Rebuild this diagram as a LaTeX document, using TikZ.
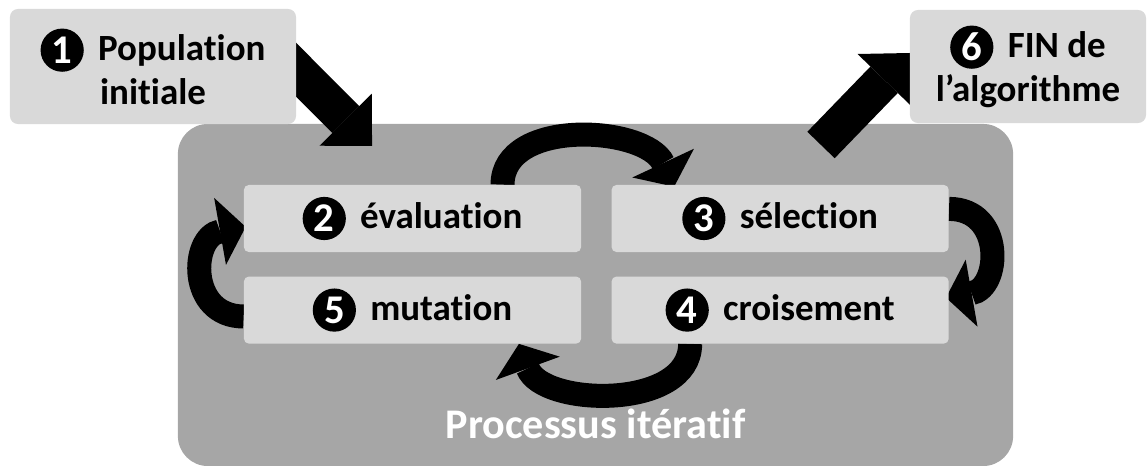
\documentclass[tikz,border=0pt]{standalone}
\usepackage{fontspec}
\setmainfont{Carlito}[Ligatures=NoCommon]
\usetikzlibrary{arrows.meta,positioning}
\definecolor{boxgray}{HTML}{D9D9D9}
\definecolor{loopgray}{HTML}{A6A6A6}
\pgfdeclarelayer{bg}
\pgfdeclarelayer{mid}
\pgfsetlayers{bg,mid,main}
\newcommand{\stepnum}[1]{\tikz[baseline=-0.26cm]\node[circle,anchor=center,fill=black,text=white,inner sep=0pt,minimum size=1.08cm,font=\bfseries\fontsize{29}{29}\selectfont] (num#1) {#1};}
\tikzset{
    stepbox/.style={fill=boxgray, rounded corners=0.2cm, inner sep=0pt, align=center, font=\bfseries\fontsize{26.3}{31}\selectfont},
    loopbox/.style={stepbox, rounded corners=0.12cm, minimum width=8.425cm, minimum height=1.675cm},
    bigarrow/.style={line width=0.95cm, -{Triangle[width=1.85cm,length=0.93cm,line width=0pt]}},
    looparrow/.style={line width=0.6cm, -{Triangle[width=1.7cm,length=0.65cm,line width=0pt]}}
}
\begin{document}
\begin{tikzpicture}[x=0.025cm,y=0.025cm]
    \useasboundingbox (0,0) rectangle (1147,466);
    \begin{pgfonlayer}{bg}
        \node[fill=loopgray, rounded corners=0.75cm, inner sep=0pt, minimum width=20.875cm, minimum height=8.55cm] (proc) at (595.5,171) {};
    \end{pgfonlayer}
    \node[white, anchor=base, font=\bfseries\fontsize{30}{36}\selectfont] (procnote) at ([yshift=0.7cm]proc.south) {Processus itératif};

    \node[stepbox, minimum width=7.15cm, minimum height=2.875cm] (init) at (153,399.5) {\stepnum{1}\hspace{0.15cm} Population\\initiale};
    \node[stepbox, minimum width=5.9cm, minimum height=2.825cm] (fin) at (1028,399.5) {\stepnum{6}\hspace{0.15cm} FIN de\\l’algorithme};

    \node[loopbox] (eval) at (412.5,247.5) {\stepnum{2}\hspace{0.15cm} évaluation};
    \node[loopbox, right=0.75cm of eval] (sel) {\stepnum{3}\hspace{0.15cm} sélection};
    \node[loopbox, below=0.6cm of eval] (mut) {\stepnum{5}\hspace{0.15cm} mutation};
    \node[loopbox, below=0.6cm of sel] (crois) {\stepnum{4}\hspace{0.15cm} croisement};

    \coordinate (initout) at (270,422.5);
    \coordinate (procin) at (372,320);
    \coordinate (procout) at (821,321);
    \coordinate (finin) at (910,413);

    \begin{pgfonlayer}{mid}
        \draw[bigarrow] (initout) -- (procin);
        \draw[bigarrow] (procout) -- (finin);
        \draw[looparrow] ([xshift=2.25cm]eval.north) to[out=90,in=115] ([xshift=-2.65cm,yshift=-0.05cm]sel.north);
        \draw[looparrow] ([yshift=0.24cm]sel.east) to[out=0,in=10,looseness=1.6] ([xshift=-0.075cm,yshift=0.31cm]crois.east);
        \draw[looparrow] ([xshift=-2.25cm]crois.south) to[out=-90,in=-70] ([xshift=2.66cm]mut.south);
        \draw[looparrow] ([yshift=-0.16cm]mut.west) to[out=180,in=190,looseness=1.6] ([xshift=0.05cm,yshift=-0.21cm]eval.west);
    \end{pgfonlayer}
\end{tikzpicture}
\end{document}
